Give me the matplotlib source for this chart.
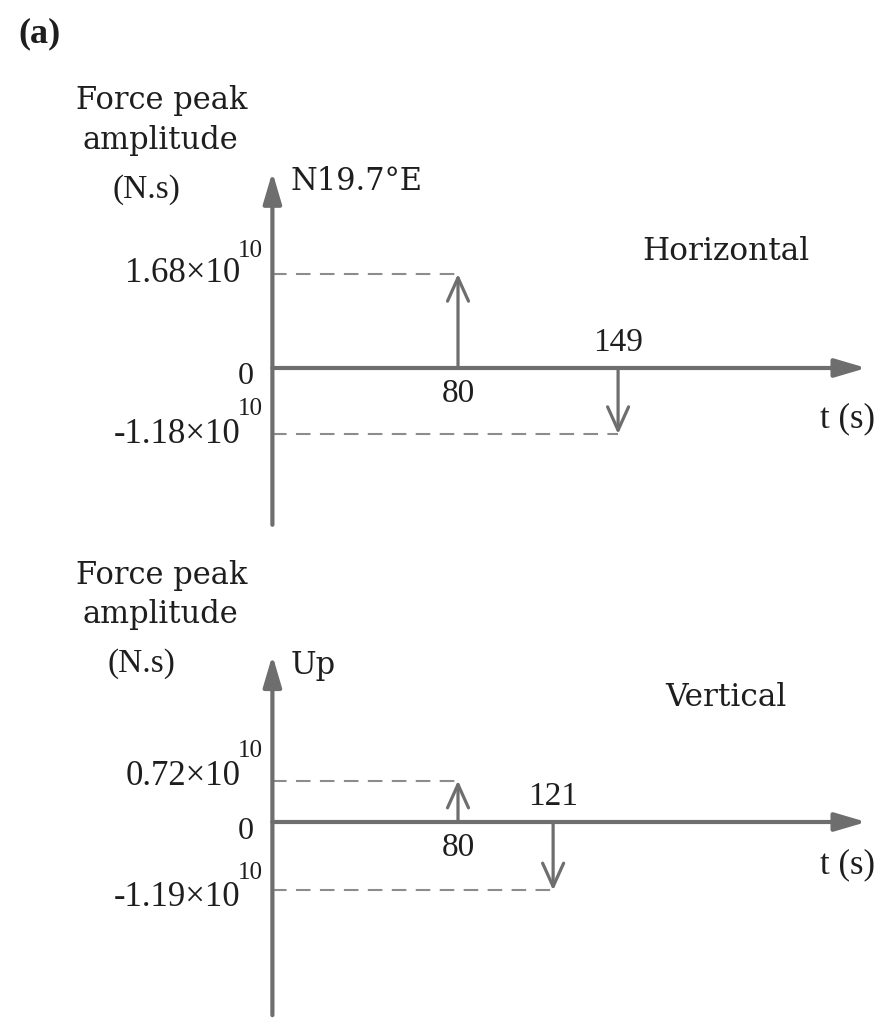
import matplotlib
matplotlib.use("Agg")
import matplotlib.pyplot as plt

# Impulse-force schematic: peak amplitude (x1e10 N.s) vs time (s)
panels = ["Horizontal", "Vertical"]
directions = ["N19.7°E", "Up"]
pos_times = [80, 80]
pos_amps = [1.68, 0.72]
neg_times = [149, 121]
neg_amps = [-1.18, -1.19]
pos_labels = ["1.68×10", "0.72×10"]
neg_labels = ["-1.18×10", "-1.19×10"]
exponent = "10"

W, H, DPI = 888, 1021, 100
fig = plt.figure(figsize=(W / DPI, H / DPI), dpi=DPI)
fig.patch.set_facecolor("white")

AX_GREY = "#6e6e6e"
DASH_GREY = "#8c8c8c"
TXT = "#1e1e1e"
SERIF_T = "Liberation Serif"
SERIF_D = "DejaVu Serif"


def fig_text(px, py, s, **kw):
    """Place text at a pixel position measured from the top-left corner."""
    kw.setdefault("color", TXT)
    fig.text(px / W, 1 - py / H, s, **kw)


# per panel: top row, bottom row, zero row, px per unit (pixels)
layout = [(0, 540, 368, 56.0), (540, 1021, 822, 57.5)]
x0_px, px_per_s = 272.4, 2.32
axis_ext = [(-2.8, 3.5), (-3.36, 2.9)]
t_end = 256.0
# label offsets in pixels: (pos label dy, pos exp dy, neg label dy, neg exp dy, t(s) dy)
label_dy = [(0, 23, 0, 25, -51), (4, 30, -7, 17, -43)]
# header rows: (Force peak, amplitude, (N.s), title row)
header_rows = [(100, 140, 190, 252), (575, 614, 664, 697)]
nsx = [146, 141]

for i in range(2):
    top, bot, zero, s = layout[i]
    ax = fig.add_axes([0, 1 - bot / H, 1, (bot - top) / H])
    ax.set_xlim(-x0_px / px_per_s, (W - x0_px) / px_per_s)
    ax.set_ylim(-(bot - zero) / s, (zero - top) / s)
    ax.axis("off")

    ylo, yhi = axis_ext[i]
    head = "-|>,head_length=0.95,head_width=0.28"
    # amplitude axis
    ax.annotate("", xy=(0, yhi), xytext=(0, ylo),
                arrowprops=dict(arrowstyle=head, lw=3.0, color=AX_GREY,
                                shrinkA=0, shrinkB=0, mutation_scale=20))
    # time axis
    ax.annotate("", xy=(t_end, 0), xytext=(0, 0),
                arrowprops=dict(arrowstyle=head, lw=3.0, color=AX_GREY,
                                shrinkA=0, shrinkB=0, mutation_scale=20))

    # impulses with dashed guides back to the amplitude axis
    for t, a in [(pos_times[i], pos_amps[i]), (neg_times[i], neg_amps[i])]:
        ax.plot([0, t], [a, a], ls=(0, (7, 4.5)), lw=1.5, color=DASH_GREY,
                solid_capstyle="butt")
        ax.annotate("", xy=(t, a), xytext=(t, 0),
                    arrowprops=dict(arrowstyle="->,head_length=0.6,head_width=0.27",
                                    lw=2.3, color=AX_GREY, shrinkA=0, shrinkB=0,
                                    mutation_scale=28))

    pdy, pedy, ndy, nedy, tdy = label_dy[i]
    for a, lab, dy, edy in [(pos_amps[i], pos_labels[i], pdy, pedy),
                            (neg_amps[i], neg_labels[i], ndy, nedy)]:
        ax.annotate(lab, xy=(0, a), xytext=(-32, dy), textcoords="offset pixels",
                    ha="right", va="center", fontsize=25, family=SERIF_T, color=TXT)
        ax.annotate(exponent, xy=(0, a), xytext=(-35, edy), textcoords="offset pixels",
                    ha="left", va="center", fontsize=18, family=SERIF_T, color=TXT)
    ax.annotate("0", xy=(0, 0), xytext=(-27, -9), textcoords="offset pixels",
                ha="center", va="center", fontsize=23, family=SERIF_T, color=TXT)

    # time labels
    ax.annotate(str(pos_times[i]), xy=(pos_times[i], 0), xytext=(0, -26),
                textcoords="offset pixels", ha="center", va="center",
                fontsize=24, family=SERIF_T, color=TXT)
    ax.annotate(str(neg_times[i]), xy=(neg_times[i], 0), xytext=(0, 25),
                textcoords="offset pixels", ha="center", va="center",
                fontsize=24, family=SERIF_T, color=TXT)
    ax.annotate("t (s)", xy=(t_end, 0), xytext=(-19, tdy), textcoords="offset pixels",
                ha="center", va="center", fontsize=25, family=SERIF_T, color=TXT)

    # direction label next to the amplitude-axis head
    ax.annotate(directions[i], xy=(0, yhi), xytext=(18, -10), textcoords="offset pixels",
                ha="left", va="center", fontsize=22, family=SERIF_D, color=TXT)

    # axis title and component title
    r1, r2, r3, r4 = header_rows[i]
    fig_text(162, r1, "Force peak", ha="center", va="center", fontsize=22, family=SERIF_D)
    fig_text(160, r2, "amplitude", ha="center", va="center", fontsize=22, family=SERIF_D)
    fig_text(nsx[i], r3, "(N.s)", ha="center", va="center", fontsize=24, family=SERIF_T)
    fig_text(726, r4, panels[i], ha="center", va="center", fontsize=22.5, family=SERIF_D)

fig_text(40, 34, "(a)", ha="center", va="center", fontsize=26, family=SERIF_T,
         weight="bold")

fig.savefig("out.png", dpi=DPI, facecolor="white")
